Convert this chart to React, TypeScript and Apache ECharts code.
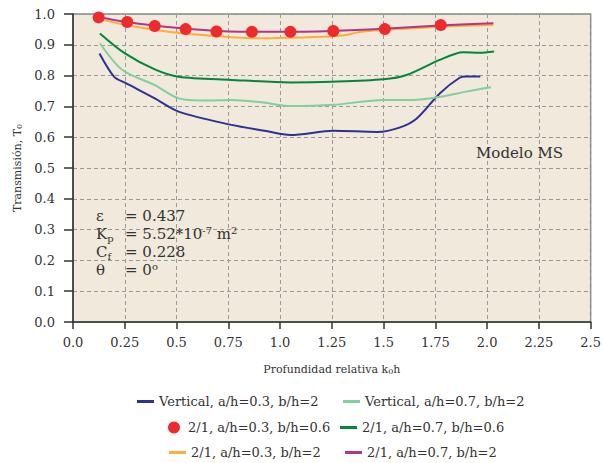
import React, { useEffect, useRef } from "react";
import * as echarts from "echarts";

const xTicks = [0, 0.25, 0.5, 0.75, 1.0, 1.25, 1.5, 1.75, 2.0, 2.25, 2.5];

const seriesNames = [
  "Vertical, a/h=0.3, b/h=2",
  "Vertical, a/h=0.7, b/h=2",
  "2/1, a/h=0.3, b/h=0.6",
  "2/1, a/h=0.7, b/h=0.6",
  "2/1, a/h=0.3, b/h=2",
  "2/1, a/h=0.7, b/h=2",
];

const vertical03: number[][] = [
  [0.128, 0.872], [0.199, 0.796], [0.251, 0.777], [0.395, 0.726], [0.51, 0.683],
  [0.765, 0.64], [0.925, 0.621], [1.05, 0.607], [1.257, 0.621], [1.468, 0.617],
  [1.58, 0.632], [1.66, 0.661], [1.771, 0.742], [1.867, 0.793], [1.9, 0.797], [1.967, 0.797],
];

const vertical07: number[][] = [
  [0.13, 0.905], [0.239, 0.818], [0.395, 0.769], [0.51, 0.726], [0.638, 0.719],
  [0.765, 0.721], [0.9, 0.714], [1.05, 0.701], [1.257, 0.705], [1.5, 0.721],
  [1.644, 0.721], [1.771, 0.731], [1.9, 0.748], [2.019, 0.762],
];

const dots03_06: number[][] = [
  [0.124, 0.989], [0.262, 0.974], [0.395, 0.961], [0.544, 0.951], [0.693, 0.943],
  [0.864, 0.942], [1.05, 0.942], [1.257, 0.945], [1.506, 0.951], [1.776, 0.964],
];

const line07_06: number[][] = [
  [0.13, 0.937], [0.251, 0.872], [0.395, 0.82], [0.51, 0.796], [0.764, 0.786],
  [1.05, 0.778], [1.25, 0.78], [1.5, 0.788], [1.61, 0.802], [1.771, 0.851],
  [1.883, 0.876], [1.963, 0.874], [2.034, 0.878],
];

const line03_2: number[][] = [
  [0.12, 0.985], [0.25, 0.965], [0.4, 0.948], [0.55, 0.936], [0.7, 0.928],
  [0.87, 0.921], [1.05, 0.923], [1.25, 0.927], [1.3, 0.93], [1.4, 0.943],
  [1.5, 0.948], [1.75, 0.958], [2.03, 0.964],
];

const line07_2: number[][] = [
  [0.12, 0.99], [0.25, 0.975], [0.5, 0.955], [0.75, 0.943], [1.0, 0.942],
  [1.25, 0.945], [1.5, 0.952], [1.75, 0.962], [2.03, 0.97],
];

const colors = ["#2e3192", "#82cf9e", "#ee2a2f", "#00873c", "#fbb034", "#b5338a"];

const FONT = "DejaVu Serif";

export default function App() {
  const ref = useRef<HTMLDivElement>(null);
  useEffect(() => {
    if (!ref.current) return;
    const chart = echarts.init(ref.current, undefined, { renderer: "svg" });
    const lineSeries = (name: string, data: number[][], color: string) => ({
      name,
      type: "line",
      data,
      symbol: "none",
      smooth: 0.3,
      lineStyle: { color, width: 2 },
      itemStyle: { color },
      z: 3,
    });
    const legendItem = (name: string, left: number, top: number, circle: boolean) => ({
      orient: "horizontal",
      padding: 0,
      left,
      top,
      itemWidth: circle ? 12 : 17,
      itemHeight: circle ? 12 : 3,
      itemGap: 10,
      textStyle: { fontFamily: FONT, fontSize: 13, color: "#333", padding: [0, 0, 0, circle ? 3 : 0] },
      selectedMode: false,
      data: [{ name, icon: circle ? "circle" : "rect" }],
    });
    const paramRich = {
      m: { fontFamily: FONT, fontSize: 15, lineHeight: 18, color: "#333" },
      sub: { fontFamily: FONT, fontSize: 10, lineHeight: 10, verticalAlign: "bottom", color: "#333" },
      sup: { fontFamily: FONT, fontSize: 10, lineHeight: 10, verticalAlign: "top", color: "#333" },
    };
    const ptext = (x: number, y: number, text: string) => ({
      type: "text",
      x,
      y,
      z: 10,
      style: { text, rich: paramRich, font: `15px ${FONT}`, fill: "#333", textVerticalAlign: "middle" },
    });
    chart.setOption({
      animation: false,
      textStyle: { fontFamily: FONT },
      grid: {
        left: 73,
        right: 8,
        top: 14,
        bottom: 141,
        show: true,
        backgroundColor: "#f1e9dc",
        borderColor: "#888",
        borderWidth: 1.5,
      },
      xAxis: {
        type: "value",
        min: 0,
        max: 2.5,
        interval: 0.25,
        name: "Profundidad relativa k{sub|0}h",
        nameLocation: "middle",
        nameGap: 42,
        nameTextStyle: {
          fontFamily: FONT,
          fontSize: 11,
          color: "#333",
          rich: { sub: { fontFamily: FONT, fontSize: 8, verticalAlign: "bottom", lineHeight: 8, color: "#333" } },
        },
        axisLine: { show: true, lineStyle: { color: "#333", width: 1.5 } },
        axisTick: { show: true, length: 7, lineStyle: { color: "#333", width: 1.5 } },
        axisLabel: {
          margin: 14,
          fontFamily: FONT,
          fontSize: 13,
          color: "#333",
          formatter: (v: number) => (Math.abs(v * 2 - Math.round(v * 2)) < 1e-9 ? v.toFixed(1) : String(v)),
        },
        splitLine: { show: true, lineStyle: { color: "#999", type: [4, 3], width: 1 } },
      },
      yAxis: {
        type: "value",
        min: 0,
        max: 1,
        interval: 0.1,
        name: "Transmisión, T{sub|0}",
        nameLocation: "middle",
        nameGap: 50,
        nameTextStyle: {
          fontFamily: FONT,
          fontSize: 11,
          color: "#333",
          rich: { sub: { fontFamily: FONT, fontSize: 8, verticalAlign: "bottom", lineHeight: 8, color: "#333" } },
        },
        axisLine: { show: true, lineStyle: { color: "#333", width: 1.5 } },
        axisTick: { show: true, length: 9, lineStyle: { color: "#333", width: 1.5 } },
        axisLabel: {
          margin: 18,
          fontFamily: FONT,
          fontSize: 13,
          color: "#333",
          formatter: (v: number) => v.toFixed(1),
        },
        splitLine: { show: true, lineStyle: { color: "#999", type: [4, 3], width: 1 } },
      },
      legend: [
        legendItem(seriesNames[0], 137, 395, false),
        legendItem(seriesNames[1], 343, 395, false),
        legendItem(seriesNames[2], 168, 421, true),
        legendItem(seriesNames[3], 340, 421, false),
        legendItem(seriesNames[4], 169, 446, false),
        legendItem(seriesNames[5], 345, 446, false),
      ],
      graphic: [
        ptext(96, 216, "{m|ε}"),
        ptext(125, 216, "{m|= 0.437}"),
        ptext(96, 234, "{m|K}{sub|p}"),
        ptext(125, 234, "{m|= 5.52*10}{sup|-7}{m| m}{sup|2}"),
        ptext(96, 252, "{m|C}{sub|f}"),
        ptext(125, 252, "{m|= 0.228}"),
        ptext(96, 270, "{m|θ}"),
        ptext(125, 270, "{m|= 0}{sup|o}"),
        {
          type: "text",
          x: 476,
          y: 153,
          z: 10,
          style: { text: "Modelo MS", font: `15px ${FONT}`, fill: "#333", textVerticalAlign: "middle" },
        },
      ],
      series: [
        lineSeries(seriesNames[0], vertical03, colors[0]),
        lineSeries(seriesNames[1], vertical07, colors[1]),
        {
          name: seriesNames[2],
          type: "scatter",
          data: dots03_06,
          symbol: "circle",
          symbolSize: 12,
          itemStyle: { color: colors[2], opacity: 1 },
          z: 5,
        },
        lineSeries(seriesNames[3], line07_06, colors[3]),
        lineSeries(seriesNames[4], line03_2, colors[4]),
        lineSeries(seriesNames[5], line07_2, colors[5]),
      ],
    });
    return () => chart.dispose();
  }, []);
  return <div ref={ref} style={{ width: 604, height: 463, position: "absolute", left: 0, top: 0 }} />;
}
